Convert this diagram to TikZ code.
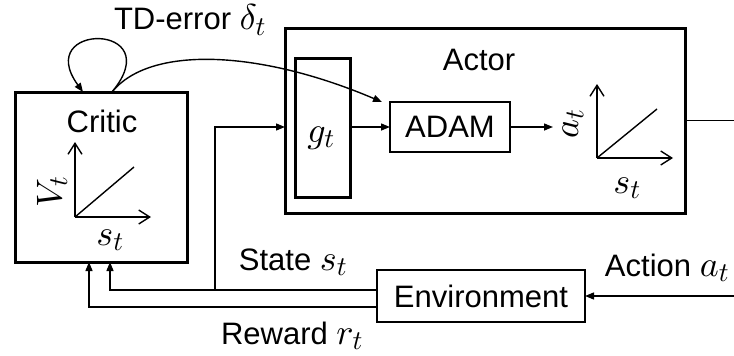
\documentclass[tikz,border=0pt]{standalone}
\usepackage{fontspec}
\setmainfont{Liberation Sans}
\DeclareFontShape{OML}{cmm}{m}{it}{<->cmmi10}{}
\DeclareFontShape{OMS}{cmsy}{m}{n}{<->cmsy10}{}
\DeclareMathSizes{31}{36}{27}{20}
\usetikzlibrary{arrows.meta}
\begin{document}
\begin{tikzpicture}[x=1pt,y=-1pt,
  every node/.style={font=\fontsize{31}{36}\selectfont},
  thickbox/.style={draw,line width=3pt,inner sep=0pt,outer sep=0pt},
  thinbox/.style={draw,line width=1.3pt,inner sep=0pt,outer sep=0pt},
  conn/.style={line width=1.4pt,-{Triangle[length=9pt,width=7pt]}},
  axis/.style={line width=1.4pt,-{Straight Barb[length=11pt,width=14pt]}},
  lbl/.style={inner sep=0pt}]
\useasboundingbox (0,0) rectangle (734,356);
% boxes
\node[thickbox,minimum width=172pt,minimum height=170pt] (critic) at (101,177) {};
\node[thickbox,minimum width=400pt,minimum height=185pt] (actor) at (485,120.5) {};
\node[thickbox,minimum width=55pt,minimum height=139pt] (gbox) at (322.5,127.5) {};
\node[thinbox,minimum width=120pt,minimum height=50pt] (adam) at (450,127) {ADAM};
\node[thinbox,minimum width=208pt,minimum height=52pt] (env) at (481,296) {Environment};
% labels
\node[lbl] (criticlbl) at (102,121) {Critic};
\node[lbl] (actorlbl) at (479,60) {Actor};
\node[lbl] (glbl) at (321,138) {$g_t$};
\node[lbl,rotate=90] (vlbl) at (52,192) {$V_t$};
\node[lbl] (sclbl) at (110,240) {$s_t$};
\node[lbl,rotate=90] (albl) at (573,124) {$a_t$};
\node[lbl] (salbl) at (627,188) {$s_t$};
\node[lbl] (tdlbl) at (190,20) {TD-error $\delta_t$};
\node[lbl] (statelbl) at (293,262) {State $s_t$};
\node[lbl] (rewardlbl) at (292,336) {Reward $r_t$};
\node[lbl] (actionlbl) at (667,268) {Action $a_t$};
% axes critic
\coordinate (co) at (75,217);
\draw[axis] (co) -- (75,142);
\draw[axis] (co) -- (151,217);
\draw[line width=1.4pt] (co) -- (134,167);
% axes actor
\coordinate (ao) at (597,158);
\draw[axis] (ao) -- (597,84);
\draw[axis] (ao) -- (673,158);
\draw[line width=1.4pt] (ao) -- (657,109);
% connectors
\draw[conn] (gbox.east |- adam) -- (adam.west);
\draw[conn] (adam.east) -- (553,127);
\coordinate (outR) at (734,120.5);
\draw[line width=1.4pt] (actor.east) -- (outR);
\coordinate (inR) at (734,296);
\draw[conn] (inR) -- (env.east);
\draw[conn] ([yshift=6pt]env.west) -| ([xshift=9pt]critic.south);
\draw[conn] ([yshift=-11pt]env.west) -| ([xshift=-12pt]critic.south);
\coordinate (br) at (215,290);
\draw[conn] (br) |- (actor.west |- adam);
% TD error
\coordinate (tds) at ([xshift=11pt]critic.north);
\draw[conn] (tds) .. controls (150,45) and (260,50) .. (382,102);
\draw[conn] (tds) .. controls (170,22) and (32,22) .. ([xshift=-18pt]critic.north);
\end{tikzpicture}
\end{document}
